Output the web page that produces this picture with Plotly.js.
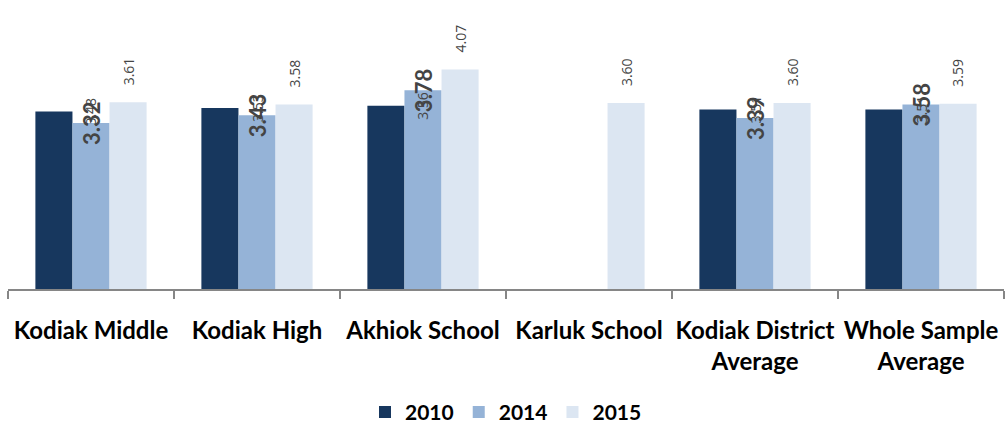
<!DOCTYPE html>
<html><head><meta charset="utf-8">
<script src="https://cdn.plot.ly/plotly-3.0.1.min.js"></script>
<style>html,body{margin:0;padding:0;background:#fff;}#chart{width:1006px;height:425px;}</style>
</head><body><div id="chart"></div>
<script>
var categories = ["Kodiak Middle", "Kodiak High", "Akhiok School", "Karluk School", "Kodiak District Average", "Whole Sample Average"];
var tickLabels = ["Kodiak Middle", "Kodiak High", "Akhiok School", "Karluk School", "Kodiak District<br>Average", "Whole Sample<br>Average"];
var seriesNames = ["2010", "2014", "2015"];
var values2010 = [3.48, 3.53, 3.56, null, 3.51, 3.51];
var values2014 = [3.32, 3.43, 3.78, null, 3.39, 3.58];
var values2015 = [3.61, 3.58, 4.07, 3.60, 3.60, 3.59];
var colors = ["#17375E", "#95B3D7", "#DCE6F2"];

var labelFont = "Lato";
var pageW = 1006, pageH = 425, mL = 8, mR = 2, mT = 0, mB = 136;
var gap = 0.33;
var allValues = [values2010, values2014, values2015];
var barTraces = allValues.map(function(v, i){
  return {type: "bar", name: seriesNames[i], x: categories, y: v, marker: {color: colors[i]}};
});
var catPx = (pageW - mL - mR) / categories.length;
var barPx = catPx * (1 - gap) / allValues.length;
var valueLabels = [];
allValues.forEach(function(v, i){
  v.forEach(function(val, j){
    if (val === null) return;
    var a = {x: categories[j], y: val, text: val.toFixed(2), showarrow: false, textangle: -90};
    if (i === 0) { a.font = {size: 14}; }
    if (i === 1) { a.font = {family: labelFont, size: 22, weight: "bold"}; }
    if (i === 2) { a.font = {size: 14}; a.xshift = barPx; a.yshift = 15; a.yanchor = "bottom"; }
    valueLabels.push(a);
  });
});
var chartLayout = {
  width: pageW, height: pageH,
  margin: {l: mL, r: mR, t: mT, b: mB},
  barmode: "group", bargap: gap, bargroupgap: 0,
  showlegend: true,
  legend: {orientation: "h", xref: "paper", x: 0.5, xanchor: "center", yref: "container", y: 0.03, yanchor: "middle",
    font: {family: labelFont, size: 21, color: "#000", weight: "bold"}, itemwidth: 30},
  xaxis: {showline: true, linecolor: "#868686", linewidth: 1.5, ticks: "outside", tickson: "boundaries",
    ticklen: 8, tickcolor: "#868686", tickwidth: 1.5, tickangle: 0, ticklabelstandoff: 19,
    tickmode: "array", tickvals: categories, ticktext: tickLabels,
    tickfont: {family: labelFont, size: 24, color: "#000", weight: "bold"}, showgrid: false, zeroline: false},
  yaxis: {range: [1, 5.04], visible: false},
  annotations: valueLabels
};
Plotly.newPlot("chart", barTraces, chartLayout, {displayModeBar: false});
</script></body></html>
